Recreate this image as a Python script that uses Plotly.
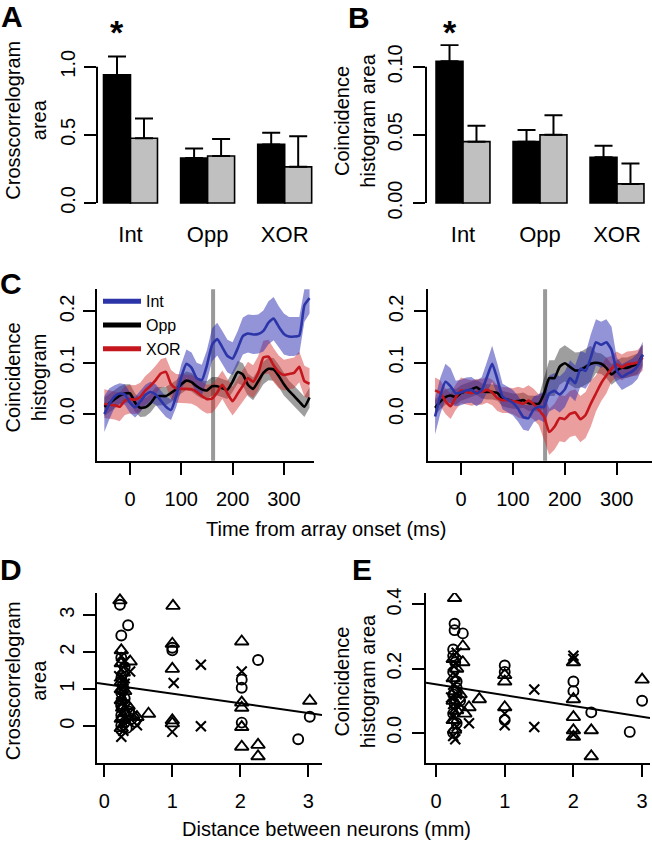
import plotly.graph_objects as go

W, H = 652, 852
FONT = "Liberation Sans, Arial, Helvetica, sans-serif"

# ---------------- data ----------------
categories = ["Int", "Opp", "XOR"]
cc_area_black = [0.94, 0.33, 0.43]
cc_area_black_sem = [0.135, 0.07, 0.085]
cc_area_gray = [0.475, 0.345, 0.265]
cc_area_gray_sem = [0.145, 0.125, 0.225]
ch_area_black = [0.104, 0.045, 0.0335]
ch_area_black_sem = [0.012, 0.0085, 0.0085]
ch_area_gray = [0.045, 0.050, 0.014]
ch_area_gray_sem = [0.0116, 0.0144, 0.0149]

time_ms = [-50, -40, -30, -20, -10, 0, 10, 20, 30, 40, 50, 60, 70, 80, 90, 100,
           110, 120, 130, 140, 150, 160, 170, 180, 190, 200, 210, 220, 230, 240,
           250, 260, 270, 280, 290, 300, 310, 320, 330, 340, 350]

left_int = [0.000, 0.020, 0.034, 0.040, 0.038, 0.022, 0.013, 0.024, 0.037, 0.043,
            0.038, 0.026, 0.014, 0.008, 0.035, 0.072, 0.098, 0.090, 0.070, 0.066,
            0.095, 0.135, 0.146, 0.130, 0.113, 0.108, 0.128, 0.152, 0.157, 0.155,
            0.156, 0.162, 0.178, 0.186, 0.170, 0.156, 0.151, 0.151, 0.153, 0.212, 0.226]
left_int_ci = [0.035, 0.030, 0.022, 0.020, 0.020, 0.020, 0.020, 0.020, 0.020, 0.020,
               0.020, 0.020, 0.020, 0.020, 0.022, 0.025, 0.028, 0.030, 0.030, 0.030,
               0.030, 0.032, 0.032, 0.032, 0.032, 0.032, 0.034, 0.036, 0.037, 0.038,
               0.038, 0.040, 0.042, 0.042, 0.040, 0.040, 0.038, 0.038, 0.036, 0.032, 0.030]
left_opp = [0.014, 0.021, 0.029, 0.036, 0.040, 0.040, 0.022, 0.012, 0.013, 0.021,
            0.034, 0.035, 0.035, 0.041, 0.048, 0.058, 0.065, 0.062, 0.054, 0.048,
            0.046, 0.054, 0.054, 0.050, 0.047, 0.063, 0.082, 0.077, 0.057, 0.049,
            0.064, 0.080, 0.088, 0.087, 0.074, 0.058, 0.045, 0.035, 0.024, 0.014, 0.032]
left_opp_ci = [0.018, 0.018, 0.018, 0.018, 0.018, 0.018, 0.018, 0.018, 0.018, 0.018,
               0.018, 0.018, 0.018, 0.018, 0.018, 0.018, 0.018, 0.018, 0.018, 0.018,
               0.018, 0.018, 0.018, 0.018, 0.018, 0.020, 0.022, 0.022, 0.022, 0.022,
               0.022, 0.022, 0.022, 0.022, 0.022, 0.022, 0.020, 0.020, 0.020, 0.020, 0.020]
left_xor = [0.020, 0.018, 0.017, 0.014, 0.026, 0.029, 0.028, 0.033, 0.046, 0.055,
            0.066, 0.079, 0.082, 0.058, 0.050, 0.049, 0.049, 0.048, 0.043, 0.035,
            0.029, 0.030, 0.042, 0.057, 0.040, 0.025, 0.040, 0.055, 0.070, 0.063,
            0.080, 0.110, 0.112, 0.095, 0.082, 0.076, 0.078, 0.080, 0.092, 0.064, 0.059]
left_xor_ci = [0.028, 0.028, 0.028, 0.028, 0.028, 0.028, 0.028, 0.028, 0.028, 0.028,
               0.028, 0.028, 0.028, 0.028, 0.028, 0.028, 0.028, 0.028, 0.028, 0.028,
               0.028, 0.028, 0.028, 0.028, 0.028, 0.028, 0.030, 0.030, 0.032, 0.032,
               0.033, 0.033, 0.033, 0.033, 0.032, 0.030, 0.030, 0.030, 0.030, 0.030, 0.030]

right_int = [-0.005, 0.035, 0.063, 0.054, 0.040, 0.042, 0.046, 0.047, 0.040, 0.047,
             0.072, 0.098, 0.068, 0.034, 0.028, 0.022, 0.010, -0.006, -0.008, 0.009,
             0.014, 0.014, 0.040, 0.045, 0.038, 0.048, 0.070, 0.060, 0.088, 0.084,
             0.110, 0.140, 0.135, 0.140, 0.125, 0.085, 0.072, 0.078, 0.083, 0.093, 0.116]
right_int_ci = [0.035, 0.035, 0.035, 0.035, 0.025, 0.025, 0.025, 0.025, 0.025, 0.025,
                0.030, 0.035, 0.030, 0.025, 0.025, 0.025, 0.025, 0.025, 0.025, 0.025,
                0.025, 0.030, 0.035, 0.035, 0.035, 0.035, 0.035, 0.035, 0.035, 0.035,
                0.045, 0.045, 0.045, 0.045, 0.045, 0.025, 0.025, 0.025, 0.025, 0.025, 0.025]
right_opp = [0.012, 0.024, 0.033, 0.036, 0.033, 0.041, 0.045, 0.048, 0.052, 0.045,
             0.043, 0.043, 0.041, 0.030, 0.028, 0.025, 0.025, 0.027, 0.021, 0.020,
             0.020, 0.040, 0.070, 0.070, 0.092, 0.099, 0.092, 0.085, 0.086, 0.092,
             0.098, 0.100, 0.098, 0.090, 0.077, 0.085, 0.090, 0.090, 0.094, 0.098, 0.115]
right_opp_ci = [0.015, 0.015, 0.015, 0.015, 0.015, 0.015, 0.015, 0.015, 0.015, 0.015,
                0.015, 0.015, 0.015, 0.015, 0.015, 0.015, 0.015, 0.015, 0.015, 0.015,
                0.015, 0.030, 0.035, 0.035, 0.035, 0.035, 0.035, 0.035, 0.035, 0.035,
                0.035, 0.020, 0.020, 0.020, 0.020, 0.020, 0.020, 0.020, 0.020, 0.020, 0.020]
right_xor = [0.046, 0.041, 0.025, 0.015, 0.033, 0.046, 0.043, 0.041, 0.043, 0.043,
             0.047, 0.042, 0.031, 0.027, 0.027, 0.025, 0.023, 0.020, 0.026, 0.019,
             0.008, -0.005, -0.035, -0.025, -0.008, -0.010, 0.000, 0.003, -0.010, -0.002,
             0.020, 0.040, 0.060, 0.075, 0.088, 0.097, 0.091, 0.097, 0.098, 0.100, 0.110]
right_xor_ci = [0.025, 0.025, 0.025, 0.025, 0.025, 0.025, 0.025, 0.025, 0.025, 0.025,
                0.025, 0.025, 0.025, 0.025, 0.025, 0.025, 0.030, 0.030, 0.030, 0.030,
                0.030, 0.045, 0.045, 0.045, 0.045, 0.045, 0.045, 0.045, 0.045, 0.045,
                0.045, 0.035, 0.035, 0.035, 0.025, 0.025, 0.025, 0.025, 0.025, 0.025, 0.025]

onset_line_ms = 162

# D: crosscorrelogram area vs distance
d_circle_x = [0.23, 0.35, 0.25, 1.0, 1.0, 2.26, 2.02, 2.02, 2.02, 3.02, 2.85,
              0.25, 0.30, 0.25, 0.27, 0.25, 0.30, 0.25, 0.28, 0.36, 0.25, 0.40, 0.30, 0.25, 0.33, 0.25, 0.45]
d_circle_y = [3.28, 2.73, 2.45, 2.05, 2.12, 1.79, 1.26, 1.04, 0.10, 0.26, -0.35,
              1.85, 1.60, 1.30, 1.10, 0.90, 0.75, 0.60, 0.45, 0.40, 0.30, 0.20, 0.10, 0.02, -0.05, 0.55, 0.12]
d_tri_x = [0.23, 1.01, 0.25, 1.0, 1.0, 0.65, 1.0, 1.0, 2.02, 2.02, 2.02, 2.02, 2.02, 2.26, 2.26, 3.02, 0.48, 0.38,
           0.25, 0.28, 0.25, 0.30, 0.25, 0.27, 0.25, 0.30, 0.25, 0.35, 0.42, 0.25]
d_tri_y = [3.40, 3.25, 2.05, 2.23, 1.55, 0.34, 0.16, 0.08, 2.29, 0.64, 0.50, -0.02, -0.55, -0.50, -0.81, 0.69, 0.25, 1.75,
           1.70, 1.45, 1.20, 0.95, 0.70, 0.50, 0.20, 0.35, -0.05, 0.55, 0.30, 1.00]
d_cross_x = [1.42, 1.02, 1.0, 1.42, 0.25, 2.02, 0.48, 0.38,
             0.25, 0.30, 0.25, 0.22, 0.30, 0.25, 0.28, 0.25, 0.32, 0.25, 0.30, 0.25, 0.28, 0.35, 0.25, 0.30]
d_cross_y = [1.66, 1.17, -0.15, 0.00, -0.28, 1.48, 0.03, 1.48,
             1.90, 1.75, 1.55, 1.35, 1.15, 1.00, 0.80, 0.65, 0.50, 0.35, 0.20, 0.05, -0.12, 0.15, 0.85, 1.30]
d_fit_intercept, d_fit_slope = 1.14, -0.26

# E: coincidence histogram area vs distance
e_circle_x = [0.27, 0.27, 0.39, 1.0, 1.0, 1.0, 2.0, 2.0, 2.26, 2.82, 3.0,
              0.25, 0.28, 0.25, 0.30, 0.25, 0.27, 0.25, 0.30, 0.25, 0.35, 0.25, 0.30]
e_circle_y = [0.34, 0.32, 0.31, 0.21, 0.19, 0.04, 0.16, 0.13, 0.064, 0.003, 0.10,
              0.26, 0.22, 0.19, 0.16, 0.12, 0.09, 0.06, 0.03, 0.00, 0.10, 0.24, 0.14]
e_tri_x = [0.27, 0.39, 0.39, 1.0, 1.0, 0.63, 0.48, 1.0, 2.0, 2.0, 2.0, 2.0, 2.0, 2.26, 2.26, 3.0,
           0.25, 0.30, 0.25, 0.28, 0.25, 0.30, 0.25, 0.27, 0.35, 0.42]
e_tri_y = [0.42, 0.27, 0.22, 0.18, 0.16, 0.105, 0.08, 0.08, 0.22, 0.105, 0.049, 0.008, -0.012, 0.008, -0.073, 0.166,
           0.23, 0.20, 0.17, 0.13, 0.10, 0.07, 0.04, 0.01, 0.12, 0.06]
e_cross_x = [1.43, 1.43, 1.0, 1.0, 0.48, 2.0, 2.0, 2.0,
             0.25, 0.28, 0.25, 0.30, 0.25, 0.28, 0.25, 0.30, 0.25, 0.28, 0.35, 0.22, 0.30]
e_cross_y = [0.135, 0.018, 0.06, 0.024, 0.03, 0.24, 0.23, -0.005,
             0.21, 0.18, 0.15, 0.12, 0.09, 0.07, 0.05, 0.02, -0.01, -0.02, 0.09, 0.11, 0.25]
e_fit_intercept, e_fit_slope = 0.151, -0.0335

# ---------------- layout helpers (pixels -> paper) ----------------
def fx(px):
    return px / W

def fy(py):
    return 1 - py / H

BLUE, BLUE_F = "#2b35a8", "rgba(40,40,175,0.5)"
BLACK, BLACK_F = "#000000", "rgba(0,0,0,0.38)"
RED, RED_F = "#c4161c", "rgba(210,40,40,0.45)"
GRAY_BAR = "#c0c0c0"

fig = go.Figure()

# ---------------- A & B bars ----------------
def add_bars(xa, ya, black, black_sem, gray, gray_sem):
    for vals, sem, col in ((black, black_sem, "black"), (gray, gray_sem, GRAY_BAR)):
        fig.add_trace(go.Bar(
            x=categories, y=vals, xaxis=xa, yaxis=ya, showlegend=False,
            marker=dict(color=col, line=dict(color="black", width=1.6)),
            error_y=dict(type="data", symmetric=False, array=sem,
                         arrayminus=[0] * len(sem), color="black",
                         thickness=2, width=9),
        ))

add_bars("x", "y", cc_area_black, cc_area_black_sem, cc_area_gray, cc_area_gray_sem)
add_bars("x2", "y2", ch_area_black, ch_area_black_sem, ch_area_gray, ch_area_gray_sem)

# ---------------- C time courses ----------------
def add_band(xa, ya, mean, ci, fill):
    upper = [m + c for m, c in zip(mean, ci)]
    lower = [m - c for m, c in zip(mean, ci)]
    fig.add_trace(go.Scatter(
        x=time_ms + time_ms[::-1], y=upper + lower[::-1], xaxis=xa, yaxis=ya,
        fill="toself", fillcolor=fill, line=dict(width=0), mode="lines",
        hoverinfo="skip", showlegend=False))

def add_line(xa, ya, mean, color):
    fig.add_trace(go.Scatter(
        x=time_ms, y=mean, xaxis=xa, yaxis=ya, mode="lines",
        line=dict(color=color, width=2.6, shape="spline", smoothing=0.5),
        showlegend=False))

for xa, ya, series in (
    ("x3", "y3", ((left_opp, left_opp_ci, BLACK, BLACK_F),
                  (left_xor, left_xor_ci, RED, RED_F),
                  (left_int, left_int_ci, BLUE, BLUE_F))),
    ("x4", "y4", ((right_opp, right_opp_ci, BLACK, BLACK_F),
                  (right_xor, right_xor_ci, RED, RED_F),
                  (right_int, right_int_ci, BLUE, BLUE_F))),
):
    for mean, ci, col, fill in series:
        add_band(xa, ya, mean, ci, fill)
    for mean, ci, col, fill in series:
        add_line(xa, ya, mean, col)

# legend keys
for name, col, rank in (("Int", BLUE, 1), ("Opp", BLACK, 2), ("XOR", RED, 3)):
    fig.add_trace(go.Scatter(x=[None], y=[None], xaxis="x3", yaxis="y3", mode="lines",
                             name=name, legendrank=rank,
                             line=dict(color=col, width=5)))

for xa in ("x3", "x4"):
    ya = "y" + xa[1:]
    fig.add_shape(type="line", xref=xa, yref=ya + " domain",
                  x0=onset_line_ms, x1=onset_line_ms, y0=0, y1=1,
                  line=dict(color="#999999", width=4), layer="below")

# ---------------- D & E scatter ----------------
def add_scatter(xa, ya, cx, cy, tx, ty, xx, xy, a, b, xr):
    fig.add_trace(go.Scatter(x=cx, y=cy, xaxis=xa, yaxis=ya, mode="markers", showlegend=False,
                             marker=dict(symbol="circle-open", size=10, color="black",
                                         line=dict(width=1.9, color="black"))))
    fig.add_trace(go.Scatter(x=tx, y=ty, xaxis=xa, yaxis=ya, mode="markers", showlegend=False,
                             marker=dict(symbol="triangle-up-open", size=12, color="black",
                                         line=dict(width=1.9, color="black"))))
    fig.add_trace(go.Scatter(x=xx, y=xy, xaxis=xa, yaxis=ya, mode="markers", showlegend=False,
                             marker=dict(symbol="x-thin-open", size=10, color="black",
                                         line=dict(width=2.1, color="black"))))
    fig.add_trace(go.Scatter(x=list(xr), y=[a + b * v for v in xr], xaxis=xa, yaxis=ya,
                             mode="lines", showlegend=False,
                             line=dict(color="black", width=2)))

D_XR = [-0.107, 3.20]
E_XR = [-0.146, 3.115]
add_scatter("x5", "y5", d_circle_x, d_circle_y, d_tri_x, d_tri_y, d_cross_x, d_cross_y,
            d_fit_intercept, d_fit_slope, D_XR)
add_scatter("x6", "y6", e_circle_x, e_circle_y, e_tri_x, e_tri_y, e_cross_x, e_cross_y,
            e_fit_intercept, e_fit_slope, E_XR)

# ---------------- axes ----------------
tickfont = dict(family=FONT, size=20, color="black")
base = dict(showgrid=False, zeroline=False, ticks="outside", ticklen=12, tickwidth=2,
            tickcolor="black", linecolor="black", linewidth=2, tickfont=tickfont)

def yax(domain_px, rng, vals, texts, anchor, showline=True, standoff=3):
    return dict(base, domain=[fy(domain_px[1]), fy(domain_px[0])], range=rng,
                tickvals=vals, ticktext=texts, tickangle=-90, anchor=anchor,
                showline=showline, ticklabelstandoff=standoff)

def xax(domain_px, rng, vals, texts, anchor):
    return dict(base, domain=[fx(domain_px[0]), fx(domain_px[1])], range=rng,
                tickvals=vals, ticktext=texts, anchor=anchor, showline=True,
                ticklabelstandoff=7)

cat_x = dict(showgrid=False, zeroline=False, showline=False, ticks="", type="category",
             tickfont=dict(family=FONT, size=22, color="black"), ticklabelstandoff=12)

fig.update_layout(
    width=W, height=H, margin=dict(l=0, r=0, t=0, b=0),
    paper_bgcolor="white", plot_bgcolor="white",
    font=dict(family=FONT, color="black"),
    barmode="group", bargap=0.3, bargroupgap=0,
    xaxis=dict(cat_x, domain=[fx(97), fx(318)], range=[-0.4345, 2.432], anchor="y"),
    yaxis=yax((40, 206), [-0.0288, 1.1655], [0, 0.5, 1.0], ["0.0", "0.5", "1.0"], "x", False, 1),
    xaxis2=dict(cat_x, domain=[fx(426), fx(650)], range=[-0.4805, 2.4285], anchor="y2"),
    yaxis2=yax((40, 206), [-0.00288, 0.11655], [0, 0.05, 0.10], ["0.00", "0.05", "0.10"], "x2", False),
    xaxis3=xax((97, 314), [-64.3, 358.7], [0, 100, 200, 300], ["0", "100", "200", "300"], "y3"),
    yaxis3=yax((290, 465), [-0.0912, 0.2434], [0, 0.1, 0.2], ["0.0", "0.1", "0.2"], "x3", True, 1),
    xaxis4=xax((428, 652), [-63.6, 368.0], [0, 100, 200, 300], ["0", "100", "200", "300"], "y4"),
    yaxis4=yax((290, 465), [-0.0912, 0.2434], [0, 0.1, 0.2], ["0.0", "0.1", "0.2"], "x4"),
    xaxis5=xax((97, 322), D_XR, [0, 1, 2, 3], ["0", "1", "2", "3"], "y5"),
    yaxis5=yax((600, 773), [-0.979, 3.598], [-1, 0, 1, 2, 3], ["\u22121", "0", "1", "2", "3"], "x5", True, 1),
    xaxis6=xax((426, 650), E_XR, [0, 1, 2, 3], ["0", "1", "2", "3"], "y6"),
    yaxis6=yax((600, 773), [-0.0925, 0.4357], [0, 0.2, 0.4], ["0.0", "0.2", "0.4"], "x6"),
    legend=dict(x=fx(98), y=fy(285), xanchor="left", yanchor="top",
                bgcolor="rgba(0,0,0,0)", font=dict(family=FONT, size=16, color="black"),
                tracegroupgap=0, itemwidth=38),
)

# R-style y axis lines for bar panels (span from 0 to top tick)
fig.add_shape(type="line", xref="x domain", yref="y", x0=0, x1=0, y0=0, y1=1.0,
              line=dict(color="black", width=2))
fig.add_shape(type="line", xref="x2 domain", yref="y2", x0=0, x1=0, y0=0, y1=0.10,
              line=dict(color="black", width=2))

# ---------------- text annotations ----------------
def ann(text, px, py, size=20, angle=0, bold=False, **kw):
    if bold:
        text = "<b>" + text + "</b>"
    fig.add_annotation(text=text, x=fx(px), y=fy(py), xref="paper", yref="paper",
                       showarrow=False, textangle=angle, xanchor="center", yanchor="middle",
                       font=dict(family=FONT, size=size, color="black"), **kw)

ann("A", 12, 12, size=30, bold=True)
ann("B", 359, 13, size=30, bold=True)
ann("C", 11, 284, size=30, bold=True)
ann("D", 11, 576, size=30, bold=True)
ann("E", 362, 576, size=30, bold=True)

ann("Crosscorrelogram<br>area", 26, 118, angle=-90)
ann("Coincidence<br>histogram area", 355, 118, angle=-90)
ann("Coincidence<br>histogram", 26, 380, angle=-90)
ann("Crosscorrelogram<br>area", 26, 690, angle=-90)
ann("Coincidence<br>histogram area", 355, 690, angle=-90)
ann("Time from array onset (ms)", 326, 535)
ann("Distance between neurons (mm)", 326, 841)

# significance asterisks above the Int black bars
for xa in ("x", "x2"):
    fig.add_annotation(text="<b>*</b>", x="Int", y=fy(28), xref=xa, yref="paper",
                       xshift=-13.5, yanchor="middle", showarrow=False,
                       font=dict(family=FONT, size=34, color="black"))

fig.write_html(
    "out.html",
    config={"displayModeBar": False},
    post_script=("document.documentElement.style.margin='0';"
                 "document.body.style.margin='0';"
                 "document.documentElement.style.overflow='hidden';"
                 "document.body.style.overflow='hidden';"),
)
